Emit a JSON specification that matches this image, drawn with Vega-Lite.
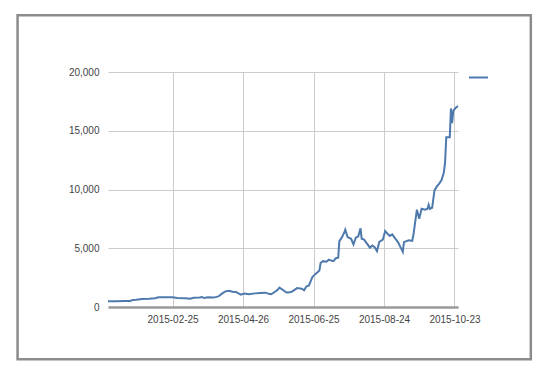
{
  "$schema": "https://vega.github.io/schema/vega-lite/v6.json",
  "width": 350,
  "height": 235,
  "padding": {"left": 16, "top": 13, "right": 20, "bottom": 12},
  "background": "white",
  "config": {"view": {"stroke": null}, "font": "Liberation Sans"},
  "layer": [
    {
      "data": {"values": [
        {"date": "2015-01-01", "value": 500}, {"date": "2015-01-08", "value": 500}, {"date": "2015-01-15", "value": 505}, {"date": "2015-01-20", "value": 510},
        {"date": "2015-01-22", "value": 600}, {"date": "2015-01-25", "value": 620}, {"date": "2015-01-30", "value": 680}, {"date": "2015-02-05", "value": 700},
        {"date": "2015-02-10", "value": 740}, {"date": "2015-02-13", "value": 820}, {"date": "2015-02-20", "value": 830}, {"date": "2015-02-25", "value": 820},
        {"date": "2015-03-01", "value": 760}, {"date": "2015-03-08", "value": 740}, {"date": "2015-03-12", "value": 700}, {"date": "2015-03-15", "value": 780},
        {"date": "2015-03-20", "value": 800}, {"date": "2015-03-22", "value": 840}, {"date": "2015-03-24", "value": 760}, {"date": "2015-03-27", "value": 830},
        {"date": "2015-04-01", "value": 800}, {"date": "2015-04-05", "value": 900}, {"date": "2015-04-08", "value": 1140}, {"date": "2015-04-11", "value": 1330},
        {"date": "2015-04-14", "value": 1380}, {"date": "2015-04-17", "value": 1300}, {"date": "2015-04-20", "value": 1280}, {"date": "2015-04-24", "value": 1050},
        {"date": "2015-04-27", "value": 1150}, {"date": "2015-05-01", "value": 1080}, {"date": "2015-05-06", "value": 1160}, {"date": "2015-05-11", "value": 1200},
        {"date": "2015-05-15", "value": 1220}, {"date": "2015-05-18", "value": 1120}, {"date": "2015-05-20", "value": 1080}, {"date": "2015-05-25", "value": 1420},
        {"date": "2015-05-27", "value": 1650}, {"date": "2015-05-30", "value": 1450}, {"date": "2015-06-02", "value": 1230}, {"date": "2015-06-05", "value": 1250},
        {"date": "2015-06-07", "value": 1330}, {"date": "2015-06-11", "value": 1610}, {"date": "2015-06-15", "value": 1560}, {"date": "2015-06-17", "value": 1420},
        {"date": "2015-06-19", "value": 1760}, {"date": "2015-06-21", "value": 1820}, {"date": "2015-06-24", "value": 2550}, {"date": "2015-06-27", "value": 2840},
        {"date": "2015-06-30", "value": 3100}, {"date": "2015-07-01", "value": 3740}, {"date": "2015-07-03", "value": 3900}, {"date": "2015-07-06", "value": 3850},
        {"date": "2015-07-08", "value": 4030}, {"date": "2015-07-10", "value": 3950}, {"date": "2015-07-12", "value": 3900}, {"date": "2015-07-14", "value": 4150},
        {"date": "2015-07-16", "value": 4200}, {"date": "2015-07-17", "value": 5600}, {"date": "2015-07-19", "value": 5900}, {"date": "2015-07-21", "value": 6300},
        {"date": "2015-07-22", "value": 6580}, {"date": "2015-07-24", "value": 5950}, {"date": "2015-07-27", "value": 5800}, {"date": "2015-07-29", "value": 5330},
        {"date": "2015-07-31", "value": 5900}, {"date": "2015-08-02", "value": 6000}, {"date": "2015-08-04", "value": 6700}, {"date": "2015-08-05", "value": 5810},
        {"date": "2015-08-07", "value": 5730}, {"date": "2015-08-10", "value": 5330}, {"date": "2015-08-12", "value": 5050}, {"date": "2015-08-14", "value": 5240},
        {"date": "2015-08-16", "value": 5100}, {"date": "2015-08-18", "value": 4760}, {"date": "2015-08-20", "value": 5550}, {"date": "2015-08-23", "value": 5730},
        {"date": "2015-08-25", "value": 6460}, {"date": "2015-08-27", "value": 6240}, {"date": "2015-08-29", "value": 6050}, {"date": "2015-08-31", "value": 6180},
        {"date": "2015-09-02", "value": 5900}, {"date": "2015-09-05", "value": 5500}, {"date": "2015-09-07", "value": 5100}, {"date": "2015-09-09", "value": 4700},
        {"date": "2015-09-10", "value": 5520}, {"date": "2015-09-14", "value": 5670}, {"date": "2015-09-17", "value": 5620}, {"date": "2015-09-18", "value": 6100},
        {"date": "2015-09-21", "value": 8280}, {"date": "2015-09-23", "value": 7510}, {"date": "2015-09-25", "value": 8360}, {"date": "2015-09-28", "value": 8280},
        {"date": "2015-09-30", "value": 8360}, {"date": "2015-10-01", "value": 8700}, {"date": "2015-10-02", "value": 8360}, {"date": "2015-10-04", "value": 8450},
        {"date": "2015-10-05", "value": 9210}, {"date": "2015-10-06", "value": 9920}, {"date": "2015-10-08", "value": 10260}, {"date": "2015-10-10", "value": 10500},
        {"date": "2015-10-12", "value": 10800}, {"date": "2015-10-14", "value": 11470}, {"date": "2015-10-15", "value": 12300}, {"date": "2015-10-16", "value": 14440},
        {"date": "2015-10-19", "value": 14440}, {"date": "2015-10-20", "value": 16900}, {"date": "2015-10-21", "value": 15640}, {"date": "2015-10-22", "value": 16700},
        {"date": "2015-10-24", "value": 16950}, {"date": "2015-10-26", "value": 17100}
      ]},
      "mark": {"type": "line", "strokeWidth": 2, "clip": false},
      "encoding": {
        "x": {
          "field": "date", "type": "temporal",
          "scale": {"type": "utc", "domain": [{"year": 2015, "month": 1, "date": 1, "utc": true}, {"year": 2015, "month": 10, "date": 26, "utc": true}]},
          "axis": {
            "title": null, "format": "%Y-%m-%d", "grid": true, "gridColor": "#cccccc", "ticks": false,
            "domain": true, "domainColor": "#999999", "domainWidth": 2.5,
            "labelFont": "Liberation Sans", "labelFontSize": 10, "labelColor": "#444444", "labelPadding": 7,
            "values": [
              {"year": 2015, "month": 2, "date": 25, "utc": true},
              {"year": 2015, "month": 4, "date": 26, "utc": true},
              {"year": 2015, "month": 6, "date": 25, "utc": true},
              {"year": 2015, "month": 8, "date": 24, "utc": true},
              {"year": 2015, "month": 10, "date": 23, "utc": true}
            ]
          }
        },
        "y": {
          "field": "value", "type": "quantitative",
          "scale": {"domain": [0, 20000]},
          "axis": {
            "title": null, "format": ",d", "values": [0, 5000, 10000, 15000, 20000],
            "grid": true, "gridColor": "#cccccc", "ticks": false, "domain": false,
            "labelFont": "Liberation Sans", "labelFontSize": 10, "labelColor": "#444444", "labelPadding": 9
          }
        },
        "color": {
          "datum": "",
          "scale": {"range": ["#4e79ad"]},
          "legend": {
            "orient": "none", "legendX": 360, "legendY": -5, "title": null,
            "symbolType": "stroke", "symbolSize": 361, "symbolStrokeWidth": 2,
            "labelFontSize": 10
          }
        }
      }
    },
    {
      "data": {"values": [{}]},
      "mark": {"type": "rect", "fillOpacity": 0, "stroke": "#8c8c8c", "strokeWidth": 2.5, "clip": false},
      "encoding": {
        "x": {"datum": {"year": 2014, "month": 10, "date": 16, "utc": true}, "type": "temporal"},
        "x2": {"datum": {"year": 2015, "month": 12, "date": 27, "utc": true}},
        "y": {"datum": -4440, "type": "quantitative"},
        "y2": {"datum": 24830}
      }
    }
  ]
}
